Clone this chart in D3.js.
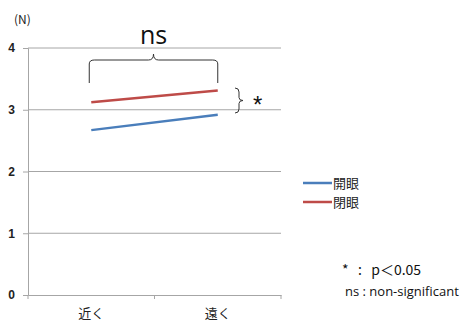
<!DOCTYPE html>
<html>
<head>
<meta charset="utf-8">
<script src="https://cdn.jsdelivr.net/npm/d3@7"></script>
<style>
  body { margin: 0; background: #fff; }
  text { font-family: "Noto Sans CJK JP", Calibri, "Liberation Sans", sans-serif; }
</style>
</head>
<body>
<div id="chart"></div>
<script>
const categories = ["近く", "遠く"];
const seriesNames = ["開眼", "閉眼"];
const openEyes = [2.67, 2.92];
const closedEyes = [3.12, 3.31];
const yTicks = [0, 1, 2, 3, 4];
const colors = ["#4a7ebb", "#be4b48"];

const W = 470, H = 323;
const margin = {top: 48, left: 28};
const width = 253, height = 247;

const svg = d3.select("#chart").append("svg")
  .attr("width", W)
  .attr("height", H);

const g = svg.append("g")
  .attr("transform", "translate(" + margin.left + "," + margin.top + ")");

const xScale = d3.scaleBand().domain(categories).range([0, width]);
const yScale = d3.scaleLinear().domain([0, 4]).range([height, 0]);

// gridlines
g.selectAll(".grid")
  .data(yTicks.filter(d => d > 0))
  .enter().append("line")
  .attr("x1", 0).attr("x2", width)
  .attr("y1", d => yScale(d)).attr("y2", d => yScale(d))
  .attr("stroke", "#a6a6a6").attr("stroke-width", 1);

// y axis
const yAxis = g.append("g")
  .call(d3.axisLeft(yScale).tickValues(yTicks).tickSize(5).tickFormat(d3.format("d")));
yAxis.select(".domain").attr("stroke", "#a6a6a6");
yAxis.selectAll(".tick line").attr("stroke", "#a6a6a6");
yAxis.selectAll("text")
  .attr("x", -13)
  .style("font-family", "'Liberation Sans', sans-serif")
  .style("font-size", "12px").style("font-weight", "bold").attr("fill", "#222");

// x axis
const xAxis = g.append("g")
  .attr("transform", "translate(0," + height + ")")
  .call(d3.axisBottom(xScale).tickSize(0));
xAxis.select(".domain").attr("stroke", "#a6a6a6");
xAxis.selectAll("text")
  .attr("dy", "1.55em")
  .style("font-size", "13px").attr("fill", "#222");
// category boundary ticks
g.selectAll(".xtick")
  .data([0, width / 2, width])
  .enter().append("line")
  .attr("x1", d => d).attr("x2", d => d)
  .attr("y1", height).attr("y2", height + 4)
  .attr("stroke", "#a6a6a6");

// unit label
svg.append("text")
  .attr("x", 14).attr("y", 24)
  .style("font-size", "12px").attr("fill", "#222")
  .text("(N)");

// lines
const line = d3.line()
  .x((d, i) => xScale(categories[i]) + xScale.bandwidth() / 2)
  .y(d => yScale(d));

[openEyes, closedEyes].forEach((s, i) => {
  g.append("path")
    .datum(s)
    .attr("fill", "none")
    .attr("stroke", colors[i])
    .attr("stroke-width", 2.5)
    .attr("d", line);
});

// legend
const legend = svg.append("g").attr("transform", "translate(303,183)");
seriesNames.forEach((name, i) => {
  legend.append("line")
    .attr("x1", 0).attr("x2", 29)
    .attr("y1", i * 19).attr("y2", i * 19)
    .attr("stroke", colors[i]).attr("stroke-width", 2.5);
  legend.append("text")
    .attr("x", 30).attr("y", i * 19 + 5)
    .style("font-size", "13px").attr("fill", "#222")
    .text(name);
});

// ns brace over the two categories
const x0 = margin.left + xScale(categories[0]) + xScale.bandwidth() / 2 - 2;
const x1 = margin.left + xScale(categories[1]) + xScale.bandwidth() / 2;
const xm = (x0 + x1) / 2;
const by = 60, bb = 83;
svg.append("path")
  .attr("d", `M${x0},${bb} L${x0},${by+4} Q${x0},${by} ${x0+5},${by} L${xm-5},${by} Q${xm},${by} ${xm},${by-6} Q${xm},${by} ${xm+5},${by} L${x1-5},${by} Q${x1},${by} ${x1},${by+4} L${x1},${bb}`)
  .attr("fill", "none").attr("stroke", "#333").attr("stroke-width", 1);
svg.append("text")
  .attr("x", xm).attr("y", 44)
  .attr("text-anchor", "middle")
  .style("font-family", "'Open Sans', sans-serif")
  .style("font-size", "25px").attr("fill", "#111")
  .text("ns");

// * brace between the two series
const bx = 235, t = 88, b = 113, m = (t + b) / 2;
svg.append("path")
  .attr("d", `M${bx},${t} Q${bx+4},${t} ${bx+4},${t+4} L${bx+4},${m-3} Q${bx+4},${m} ${bx+8},${m} Q${bx+4},${m} ${bx+4},${m+3} L${bx+4},${b-4} Q${bx+4},${b} ${bx},${b}`)
  .attr("fill", "none").attr("stroke", "#333").attr("stroke-width", 1);
svg.append("text")
  .attr("x", 253).attr("y", 113)
  .style("font-family", "'Liberation Sans', sans-serif")
  .style("font-size", "24px").attr("fill", "#111")
  .text("*");

// footnote
svg.append("text")
  .attr("x", 342).attr("y", 275)
  .style("font-size", "14px").attr("fill", "#111")
  .attr("xml:space", "preserve")
  .text("*   :   p＜0.05");
svg.append("text")
  .attr("x", 345).attr("y", 296)
  .style("font-family", "'Open Sans', sans-serif")
  .style("font-size", "13px").attr("fill", "#111")
  .text("ns : non-significant");
</script>
</body>
</html>
